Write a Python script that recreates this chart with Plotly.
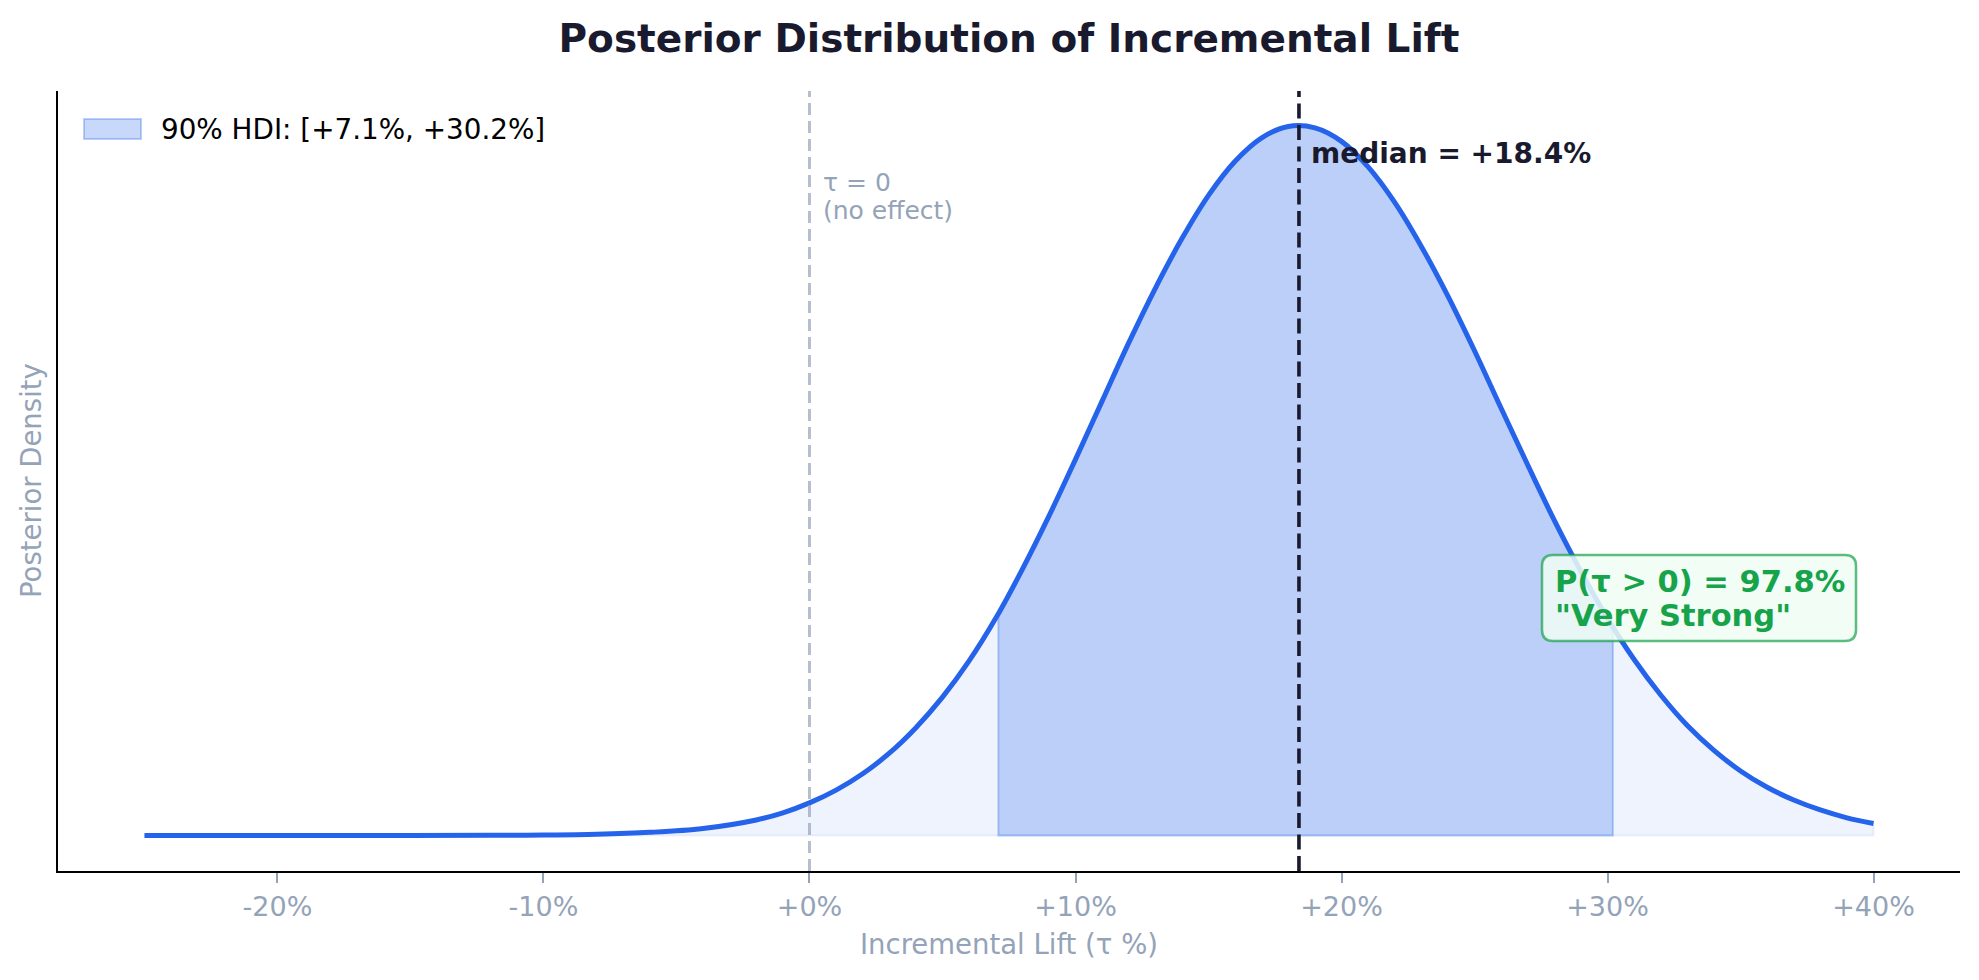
import numpy as np
import plotly.graph_objects as go

# ---------------- data ----------------
lift_pct = [-25, -20, -15, -12, -10, -8, -6, -4, -2, -1, 0, 1, 2, 3, 4, 5, 6, 7, 8, 9, 10,
            11, 12, 13, 14, 15, 16, 17, 18, 19, 20, 21, 22, 23, 24, 25, 26, 27, 28, 29, 30,
            31, 32, 33, 34, 35, 36, 37, 38, 39, 40]
density = [0.000, 0.000, 0.0001, 0.0003, 0.0007, 0.0018, 0.0045, 0.010, 0.022, 0.032, 0.046,
           0.064, 0.087, 0.116, 0.152, 0.195, 0.246, 0.306, 0.375, 0.450, 0.530,
           0.612, 0.694, 0.771, 0.841, 0.902, 0.950, 0.983, 0.999, 0.997, 0.978,
           0.942, 0.892, 0.830, 0.760, 0.683, 0.602, 0.522, 0.444, 0.372, 0.306,
           0.248, 0.198, 0.155, 0.120, 0.091, 0.068, 0.050, 0.036, 0.025, 0.017]
HDI_LOW = 7.1
HDI_HIGH = 30.2
MEDIAN = 18.4
P_POSITIVE = 97.8
EVIDENCE = "Very Strong"
tick_values = [-20, -10, 0, 10, 20, 30, 40]
tick_labels = [f"{v:+d}%" for v in tick_values]

# ---------------- style ----------------
BLUE = "#2563eb"
GRAY = "#94a3b8"
DARK = "#1a1a2e"
GREEN = "#16a34a"
FONT = "DejaVu Sans"
W, H = 1979, 980
ML, MR, MT, MB = 58, 19, 91, 109
PW, PH = W - ML - MR, H - MT - MB

x = np.array(lift_pct, dtype=float)
y = np.array(density, dtype=float)
x_span = x.max() - x.min()
y_span = y.max() - y.min()

# HDI region taken from the curve
inside = (x > HDI_LOW) & (x < HDI_HIGH)
y_lo = float(np.interp(HDI_LOW, x, y))
y_hi = float(np.interp(HDI_HIGH, x, y))
hx = np.concatenate([[HDI_LOW], x[inside], [HDI_HIGH]])
hy = np.concatenate([[y_lo], y[inside], [y_hi]])

fig = go.Figure()
# light fill under the whole curve
fig.add_trace(go.Scatter(x=x, y=y, mode="lines", line=dict(width=0, shape="spline"),
                         fill="tozeroy", fillcolor="rgba(37,99,235,0.08)",
                         hoverinfo="skip", showlegend=False))
fig.add_trace(go.Scatter(x=[x.min(), x.max(), x.max()], y=[0, 0, y[-1]], mode="lines",
                         line=dict(width=2, color="rgba(37,99,235,0.08)"),
                         hoverinfo="skip", showlegend=False))
# HDI fill
fig.add_trace(go.Scatter(x=hx, y=hy, mode="lines", line=dict(width=0, shape="spline"),
                         fill="tozeroy", fillcolor="rgba(37,99,235,0.25)",
                         name=f"90% HDI: [{HDI_LOW:+.1f}%, {HDI_HIGH:+.1f}%]",
                         hoverinfo="skip", showlegend=False))
fig.add_trace(go.Scatter(x=[HDI_LOW, HDI_LOW, HDI_HIGH, HDI_HIGH], y=[y_lo, 0, 0, y_hi],
                         mode="lines", line=dict(width=2, color="rgba(37,99,235,0.3)"),
                         hoverinfo="skip", showlegend=False))
# main curve
fig.add_trace(go.Scatter(x=x, y=y, mode="lines", line=dict(width=5, color=BLUE, shape="spline"),
                         name="posterior", showlegend=False))

# reference lines
fig.add_shape(type="line", xref="x", yref="paper", x0=0, x1=0, y0=0, y1=1, layer="above",
              line=dict(color="rgba(148,163,184,0.7)", width=3, dash="12px,6px"))
fig.add_shape(type="line", xref="x", yref="paper", x0=MEDIAN, x1=MEDIAN, y0=0, y1=1,
              layer="above", line=dict(color=DARK, width=3.6, dash="15px,6.5px"))

# legend (manual, matplotlib style)
def px_to_paper_x(px):
    return (px - ML) / PW

def px_to_paper_y(py):
    return (H - MB - py) / PH

fig.add_shape(type="rect", xref="paper", yref="paper",
              x0=px_to_paper_x(84), x1=px_to_paper_x(141),
              y0=px_to_paper_y(139), y1=px_to_paper_y(119),
              fillcolor="rgba(37,99,235,0.25)", line=dict(color="rgba(37,99,235,0.3)", width=2))
fig.add_annotation(xref="paper", yref="paper", x=px_to_paper_x(159), y=px_to_paper_y(129),
                   xanchor="left", yanchor="middle", showarrow=False,
                   text=f"90% HDI: [{HDI_LOW:+.1f}%, {HDI_HIGH:+.1f}%]",
                   font=dict(family=FONT, size=27.8, color="black"))

# median label
fig.add_annotation(x=MEDIAN, y=0.961, xref="x", yref="y", xanchor="left", yanchor="middle",
                   xshift=10, showarrow=False, text=f"median = {MEDIAN:+.1f}%",
                   font=dict(family=FONT, size=28, color=DARK, weight="bold"))
# tau = 0 label
fig.add_annotation(x=0, y=0.920, xref="x", yref="y", xanchor="left", yanchor="middle",
                   xshift=12, showarrow=False, text="τ = 0",
                   font=dict(family=FONT, size=25, color=GRAY))
fig.add_annotation(x=0, y=0.881, xref="x", yref="y", xanchor="left", yanchor="middle",
                   xshift=12, showarrow=False, text="(no effect)",
                   font=dict(family=FONT, size=25, color=GRAY))

# probability box (rounded)
bx0, bx1, by0, by1, r = 1542, 1856, 555, 641, 11
def rounded_path(x0, x1, y0, y1, r):
    X = lambda v: px_to_paper_x(v)
    Y = lambda v: px_to_paper_y(v)
    return (f"M {X(x0 + r)},{Y(y0)} L {X(x1 - r)},{Y(y0)} Q {X(x1)},{Y(y0)} {X(x1)},{Y(y0 + r)} "
            f"L {X(x1)},{Y(y1 - r)} Q {X(x1)},{Y(y1)} {X(x1 - r)},{Y(y1)} "
            f"L {X(x0 + r)},{Y(y1)} Q {X(x0)},{Y(y1)} {X(x0)},{Y(y1 - r)} "
            f"L {X(x0)},{Y(y0 + r)} Q {X(x0)},{Y(y0)} {X(x0 + r)},{Y(y0)} Z")
fig.add_shape(type="path", xref="paper", yref="paper", path=rounded_path(bx0, bx1, by0, by1, r),
              fillcolor="rgba(240,253,244,0.85)", line=dict(color="rgba(22,163,74,0.7)", width=2.5),
              layer="above")
fig.add_annotation(xref="paper", yref="paper", x=px_to_paper_x(1553), y=px_to_paper_y(581),
                   xanchor="left", yanchor="middle", showarrow=False,
                   text=f"P(τ > 0) = {P_POSITIVE:.1f}%",
                   font=dict(family=FONT, size=30.5, color=GREEN, weight="bold"))
fig.add_annotation(xref="paper", yref="paper", x=px_to_paper_x(1553), y=px_to_paper_y(615),
                   xanchor="left", yanchor="middle", showarrow=False,
                   text=f"\"{EVIDENCE}\"",
                   font=dict(family=FONT, size=30.5, color=GREEN, weight="bold"))

# axis titles
fig.add_annotation(xref="paper", yref="paper", x=0.5, y=0, yshift=-73, xanchor="center",
                   yanchor="middle", showarrow=False, text="Incremental Lift (τ %)",
                   font=dict(family=FONT, size=27.5, color=GRAY))
fig.add_annotation(xref="paper", yref="paper", x=0, y=0.5, xshift=-27, xanchor="center",
                   yanchor="middle", showarrow=False, text="Posterior Density", textangle=-90,
                   font=dict(family=FONT, size=27.5, color=GRAY))

fig.update_layout(
    width=W, height=H,
    margin=dict(l=ML, r=MR, t=MT, b=MB),
    paper_bgcolor="white", plot_bgcolor="white",
    title=dict(text="Posterior Distribution of Incremental Lift", x=0.5, xref="paper",
               y=1 - 38 / H, yref="container", yanchor="middle", xanchor="center",
               font=dict(family=FONT, size=39, color=DARK, weight="bold")),
    xaxis=dict(range=[x.min() - 0.05 * x_span, x.max() + 0.05 * x_span],
               tickvals=tick_values, ticktext=tick_labels,
               showline=True, linecolor="black", linewidth=2, mirror=False,
               ticks="outside", ticklen=10, tickwidth=2, tickcolor=GRAY,
               tickfont=dict(family=FONT, size=27, color=GRAY), ticklabelstandoff=1,
               showgrid=False, zeroline=False),
    yaxis=dict(range=[y.min() - 0.05 * y_span, y.max() + 0.05 * y_span],
               showticklabels=False, ticks="", showline=True, linecolor="black",
               linewidth=2, showgrid=False, zeroline=False),
    showlegend=False,
)

fig.write_html("out.html")
